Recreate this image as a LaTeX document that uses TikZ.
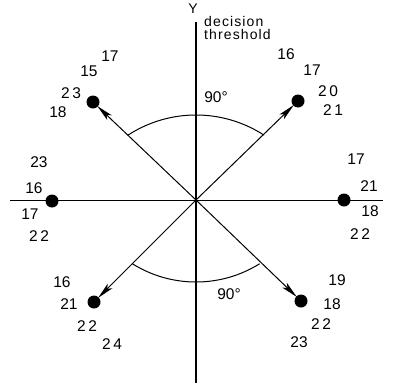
\documentclass[tikz,border=0pt]{standalone}
\usepackage{fontspec}
\setmainfont{Liberation Sans}
\newfontfamily\widefont[LetterSpace=8]{Liberation Sans}
\usetikzlibrary{arrows.meta}
\begin{document}
\begin{tikzpicture}[x=1pt,y=-1pt,
  num/.style={font=\fontsize{15.5}{17}\selectfont, inner sep=0pt},
  dot/.style={circle, fill=black, minimum size=13pt, inner sep=0pt},
  axis/.style={line width=1.4pt},
  hline/.style={line width=0.9pt},
  vec/.style={line width=1pt, -{Stealth[length=17pt,width=6.5pt,inset=4pt]}, shorten >=-1pt},
  arcline/.style={line width=1pt}]
\useasboundingbox (0,0) rectangle (401,383);
% axes
\coordinate (o) at (196,200);
\coordinate (vt) at (196,22);
\coordinate (vb) at (196,383);
\coordinate (hl) at (10,200);
\coordinate (hr) at (383,200);
\draw[axis] (vt) -- (vb);
\draw[hline] (hl) -- (hr);
\node[font=\fontsize{14}{15}\selectfont, inner sep=0pt] (ylab) at (193,9) {Y};
\node[font=\widefont\fontsize{14}{15}\selectfont, anchor=north west, align=left, inner sep=0pt] (thr) at (204,16) {decision\\[-2pt]threshold};
% dots
\node[dot] (ul) at (93,102) {};
\node[dot] (ur) at (298,101) {};
\node[dot] (l) at (52,201) {};
\node[dot] (r) at (344,200) {};
\node[dot] (ll) at (94,302) {};
\node[dot] (lr) at (301,301) {};
% vectors
\draw[vec] (o) -- (ul);
\draw[vec] (o) -- (ur);
\draw[vec] (o) -- (ll);
\draw[vec] (o) -- (lr);
% arcs (y axis points down, so angles are mirrored)
\draw[arcline] (196,240) ++(237:125) arc[start angle=237, end angle=303, radius=125];
\draw[arcline] (196,162) ++(122:120) arc[start angle=122, end angle=58, radius=120];
\node[num] (a1) at (216,97) {90°};
\node[num] (a2) at (229,294) {90°};
% upper-left labels
\node[num] (n1) at (110,56) {17};
\node[num] (n2) at (89,71) {15};
\node[num] (n3) at (71,93) {2\,3};
\node[num] (n4) at (58,112) {18};
% left labels
\node[num] (n5) at (39,162) {23};
\node[num] (n6) at (34,188) {16};
\node[num] (n7) at (30,214) {17};
\node[num] (n8) at (39,236) {2\,2};
% lower-left labels
\node[num] (n9) at (62,282) {16};
\node[num] (n10) at (69,304) {21};
\node[num] (n11) at (87,326) {2\,2};
\node[num] (n12) at (112,344) {2\,4};
% upper-right labels
\node[num] (n13) at (286,54) {16};
\node[num] (n14) at (312,70) {17};
\node[num] (n15) at (328,91) {2\,0};
\node[num] (n16) at (333,110) {2\,1};
% right labels
\node[num] (n17) at (356,159) {17};
\node[num] (n18) at (369,186) {21};
\node[num] (n19) at (370,211) {18};
\node[num] (n20) at (360,234) {2\,2};
% lower-right labels
\node[num] (n21) at (337,280) {19};
\node[num] (n22) at (332,304) {18};
\node[num] (n23) at (321,324) {2\,2};
\node[num] (n24) at (299,342) {23};
\end{tikzpicture}
\end{document}
